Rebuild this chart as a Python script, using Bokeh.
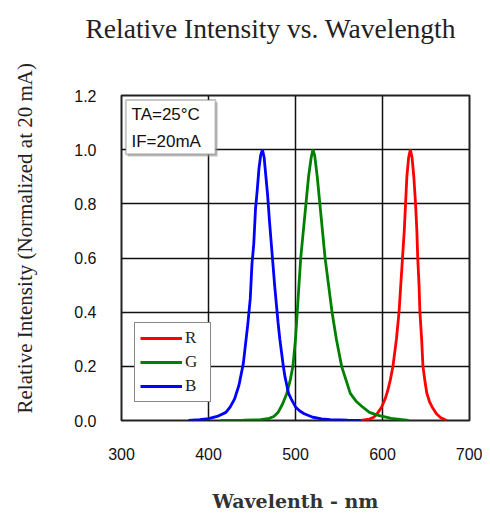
from bokeh.plotting import figure
from bokeh.models import (Range1d, FixedTicker, PrintfTickFormatter, Legend,
                          LegendItem, BoxAnnotation, Label, Title)
from bokeh.embed import file_html
from bokeh.resources import INLINE

# ---- data ----
red_nm = [575, 585, 590, 595, 599, 603, 606, 609, 612, 616, 619, 621, 623, 625,
          626.5, 628, 630, 632, 634, 636, 638, 639.5, 640.5, 642, 643, 645,
          646.5, 649, 651, 654, 657, 662, 667, 674]
red_val = [0.0, 0.005, 0.012, 0.03, 0.05, 0.08, 0.11, 0.15, 0.2, 0.3, 0.4, 0.5,
           0.6, 0.7, 0.8, 0.9, 0.97, 1.0, 0.97, 0.9, 0.8, 0.7, 0.6, 0.5, 0.4,
           0.3, 0.2, 0.14, 0.1, 0.07, 0.05, 0.025, 0.01, 0.0]

green_nm = [414, 440, 460, 470, 475, 480, 485, 490, 494, 497, 500, 502, 504, 506,
            509, 512, 515, 518, 520, 522, 525, 528, 531, 534, 538, 542, 547, 553,
            558, 563, 570, 577, 585, 594, 610, 630]
green_val = [0.0, 0.001, 0.003, 0.008, 0.015, 0.03, 0.06, 0.1, 0.15, 0.2, 0.3,
             0.4, 0.5, 0.6, 0.7, 0.8, 0.9, 0.97, 1.0, 0.98, 0.9, 0.8, 0.7, 0.6,
             0.5, 0.4, 0.3, 0.2, 0.15, 0.1, 0.07, 0.05, 0.03, 0.02, 0.008, 0.0]

blue_nm = [377, 390, 400, 410, 420, 425, 430, 435, 440, 445, 448, 450, 452, 454,
           456, 458, 460, 462, 464, 466, 468, 470, 472, 474, 476, 478, 480, 482,
           484, 486, 488, 490, 492, 495, 500, 505, 510, 520, 530, 540, 560, 575]
blue_val = [0.0, 0.003, 0.007, 0.015, 0.03, 0.05, 0.08, 0.13, 0.21, 0.35, 0.45,
            0.58, 0.65, 0.78, 0.85, 0.93, 0.98, 1.0, 0.97, 0.9, 0.83, 0.74, 0.66,
            0.58, 0.5, 0.43, 0.36, 0.3, 0.25, 0.2, 0.16, 0.13, 0.1, 0.08, 0.05,
            0.035, 0.025, 0.012, 0.006, 0.003, 0.001, 0.0]

x_ticks = [300, 400, 500, 600, 700]
y_ticks = [0.0, 0.2, 0.4, 0.6, 0.8, 1.0, 1.2]
series_names = ["R", "G", "B"]
series_colors = ["#ff0000", "#008000", "#0000ff"]

SERIF = "Liberation Serif"
SANS = "Liberation Sans"

p = figure(width=482, height=521, output_backend="svg", toolbar_location=None,
           title=None,
           x_range=Range1d(300, 700), y_range=Range1d(0, 1.2),
           min_border_left=121, min_border_right=13,
           min_border_top=95, min_border_bottom=101)

xax = p.below[0]
yax = p.left[0]

for ax in (xax, yax):
    ax.axis_line_color = None
    ax.major_tick_line_color = None
    ax.minor_tick_line_color = None
    ax.major_tick_out = 0
    ax.major_tick_in = 0
    ax.minor_tick_out = 0
    ax.minor_tick_in = 0
    ax.major_label_text_font = SANS
    ax.major_label_text_font_size = "16px"
    ax.major_label_text_color = "#111111"

xax.ticker = FixedTicker(ticks=x_ticks)
yax.ticker = FixedTicker(ticks=y_ticks)
yax.formatter = PrintfTickFormatter(format="%.1f")
xax.major_label_standoff = 27
yax.major_label_standoff = 25

xax.axis_label = "Wavelenth - nm"
xax.axis_label_text_font = "DejaVu Serif"
xax.axis_label_text_font_style = "bold"
xax.axis_label_text_font_size = "19px"
xax.axis_label_text_color = "#333333"
xax.axis_label_standoff = 27

# blank spacers push the titles away from the frame
p.add_layout(Title(text=".", text_font_size="1px", text_color="white",
                   standoff=49), "above")
p.add_layout(Title(text="Relative Intensity vs. Wavelength", align="left",
                   offset=-36, standoff=0, text_font=SERIF,
                   text_font_size="27.5px", text_font_style="normal",
                   text_color="#222222"), "above")

p.add_layout(Title(text=".", text_font_size="1px", text_color="white",
                   standoff=32), "left")
p.add_layout(Title(text="Relative Intensity (Normalized at 20 mA)", align="left",
                   offset=7, standoff=0, text_font=SERIF,
                   text_font_size="21px", text_font_style="normal",
                   text_color="#222222"), "left")

# grid and frame
xgrid = p.xgrid[0]
ygrid = p.ygrid[0]
xgrid.ticker = FixedTicker(ticks=x_ticks)
ygrid.ticker = FixedTicker(ticks=y_ticks)
for g in (xgrid, ygrid):
    g.grid_line_color = "#111111"
    g.grid_line_width = 1.5
    g.grid_line_alpha = 1.0
p.outline_line_color = "#222222"
p.outline_line_width = 2
p.background_fill_color = "white"
p.border_fill_color = "white"

# curves
renderers = []
for xs, ys, c in ((red_nm, red_val, series_colors[0]),
                  (green_nm, green_val, series_colors[1]),
                  (blue_nm, blue_val, series_colors[2])):
    renderers.append(p.line(xs, ys, line_color=c, line_width=2.8))

legend = Legend(items=[LegendItem(label=n, renderers=[r])
                       for n, r in zip(series_names, renderers)],
                location=(13, 18), glyph_width=42, glyph_height=18,
                label_height=18, label_standoff=3, spacing=4, padding=5,
                margin=0, border_line_color="#111111", border_line_width=1.5,
                background_fill_color="white", background_fill_alpha=1.0,
                label_text_font=SERIF, label_text_font_size="17px",
                label_text_color="#222222")
p.add_layout(legend)

# condition box
shadow = BoxAnnotation(left=307, right=410.5, top=1.175, bottom=0.975,
                       fill_color="#999999", fill_alpha=0.6, line_color=None)
box = BoxAnnotation(left=305, right=408, top=1.183, bottom=0.983,
                    fill_color="white", fill_alpha=1.0, line_color="#444444",
                    line_width=2)
p.add_layout(shadow)
p.add_layout(box)
p.add_layout(Label(x=311.5, y=1.131, text="TA=25\u00b0C", text_font=SANS,
                   text_font_size="17px", text_baseline="middle",
                   text_color="#111111"))
p.add_layout(Label(x=311.5, y=1.031, text="IF=20mA", text_font=SANS,
                   text_font_size="17px", text_baseline="middle",
                   text_color="#111111"))

open("out.html", "w").write(file_html(p, INLINE))
